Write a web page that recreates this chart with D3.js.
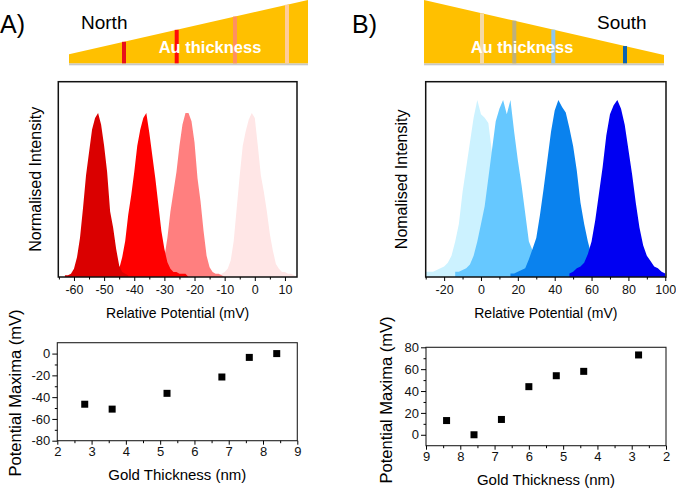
<!DOCTYPE html>
<html><head><meta charset="utf-8">
<script src="https://cdn.jsdelivr.net/npm/d3@7"></script>
<style>html,body{margin:0;padding:0;background:#fff}svg{display:block}text{font-family:"Liberation Sans",Arial,sans-serif}</style>
</head><body><svg id="c" width="676" height="489"></svg>
<script>
// ---------- DATA ----------
// North (A) histograms, 1 mV bins, normalised intensity
const northStep = 1;
const northStarts = [-63, -46, -32, -12];
const northDark = [0.01,0.01,0.02,0.05,0.12,0.24,0.42,0.62,0.76,0.9,0.97,1.0,0.93,0.8,0.64,0.4,0.3,0.17,0.07,0.03,0.02,0.01];
const northRed = [0.01,0.05,0.12,0.22,0.38,0.5,0.64,0.8,0.9,0.97,1.0,0.88,0.74,0.6,0.44,0.28,0.17,0.09,0.05,0.03,0.03,0.02,0.02,0.02,0];
const northSalmon = [0.02,0.05,0.12,0.24,0.4,0.52,0.64,0.8,0.93,1.0,1.0,0.95,0.82,0.6,0.46,0.28,0.13,0.06,0.03,0.02,0.02,0.01,0];
const northPink = [0.01,0.02,0.03,0.05,0.1,0.22,0.42,0.62,0.8,0.89,0.96,1.0,0.97,0.8,0.62,0.52,0.4,0.26,0.16,0.08,0.05,0.03,0.03,0.02,0.02,0.01,0];
// South (B) histograms, 2 mV bins
const southStep = 2;
const southStarts = [-30, -14, 16, 48];
const southPale = [0.03,0.03,0.03,0.04,0.05,0.06,0.08,0.12,0.2,0.3,0.48,0.62,0.76,0.9,1.0,0.92,0.9,0.87,0.7,0.5,0.3,0.15,0.06,0.02,0];
const southLight = [0.03,0.03,0.04,0.05,0.07,0.12,0.2,0.3,0.4,0.56,0.72,0.88,0.95,1.0,0.92,1.0,0.82,0.66,0.52,0.36,0.2,0.15,0.1,0.06,0.04,0.03,0.02,0];
const southMid = [0.02,0.02,0.03,0.04,0.05,0.1,0.16,0.22,0.35,0.5,0.66,0.82,0.94,1.0,0.96,0.93,0.84,0.74,0.6,0.42,0.3,0.2,0.12,0.07,0.04,0.02,0];
const southDeep = [0.02,0.03,0.05,0.06,0.08,0.13,0.2,0.32,0.47,0.62,0.8,0.92,0.97,1.0,0.95,0.86,0.72,0.58,0.42,0.28,0.18,0.12,0.09,0.06,0.05,0.03,0.02];
// Potential maxima vs gold thickness
const northThickness = [2.8, 3.6, 5.2, 6.8, 7.6, 8.4];
const northMaxima = [-46.5, -51, -36.5, -21.5, -3.5, 0];
const southThickness = [8.4, 7.6, 6.8, 6.0, 5.2, 4.4, 2.8];
const southMaxima = [13, 0, 14, 44, 54, 58, 73];
// tick labels
const northHistTicks = [-60,-50,-40,-30,-20,-10,0,10];
const southHistTicks = [-20,0,20,40,60,80,100];
const thicknessTicks = [2,3,4,5,6,7,8,9];
const northMaxTicks = [-80,-60,-40,-20,0];
const southMaxTicks = [0,20,40,60,80];

// ---------- DRAW ----------
const svg = d3.select("#c");
const str = d => String(d);

function wedge(pts, stripes, stripeColors, topEdge) {
  svg.append("rect").attr("x", pts[0][0]).attr("y", 63.3).attr("width", pts[2][0]-pts[0][0]).attr("height", 2).attr("fill", "#c8c8c8");
  svg.append("polygon").attr("points", pts.map(p => p.join(",")).join(" ")).attr("fill", "#FFC000");
  stripes.forEach((sx, i) => {
    const yt = topEdge(sx);
    svg.append("rect").attr("x", sx - 2).attr("y", yt).attr("width", 4).attr("height", 63.3 - yt).attr("fill", stripeColors[i]);
  });
}
// Left wedge (thin at left)
wedge([[69,63.3],[69,54.3],[308,0],[308,63.3]], [124, 176.7, 235, 287],
  ["#E8101A","#FF0A0A","#FF9060","#FFCC99"], x => 54.3 - (x-69)/(308-69)*54.3);
// Right wedge (thick at left)
wedge([[424,63.3],[424,0],[664,55],[664,63.3]], [482, 514.3, 553.3, 625],
  ["#F4D9A6","#BDB07E","#8EC6EE","#0B62B2"], x => (x-424)/(664-424)*55);

svg.append("text").attr("x", 0).attr("y", 33).attr("font-size", 25).text("A)");
svg.append("text").attr("x", 352).attr("y", 33).attr("font-size", 25).text("B)");
svg.append("text").attr("x", 81).attr("y", 29).attr("font-size", 19).text("North");
svg.append("text").attr("x", 597).attr("y", 29).attr("font-size", 19).text("South");
svg.append("text").attr("x", 210).attr("y", 53).attr("font-size", 16.5).attr("font-weight", "bold").attr("fill", "#fff").attr("text-anchor", "middle").text("Au thickness");
svg.append("text").attr("x", 522).attr("y", 53).attr("font-size", 16.5).attr("font-weight", "bold").attr("fill", "#fff").attr("text-anchor", "middle").text("Au thickness");

function hist(o) {
  const x = d3.scaleLinear().domain(o.domain).range([o.x0, o.x1]);
  const y = d3.scaleLinear().domain([0, 1]).range([o.yb, o.ytop]);
  const id = "clip" + o.id;
  svg.append("clipPath").attr("id", id).append("rect").attr("x", o.x0).attr("y", o.yt).attr("width", o.x1 - o.x0).attr("height", o.yb - o.yt);
  const g = svg.append("g").attr("clip-path", `url(#${id})`);
  const area = d3.area().x(d => x(d.v)).y0(y(0)).y1(d => y(d.h)).curve(d3.curveLinear);
  o.series.forEach((s, i) => {
    const pts = s.map((h, j) => ({v: o.starts[i] + j * o.step, h}));
    g.append("path").datum(pts).attr("d", area).attr("fill", o.colors[i]);
  });
  svg.append("rect").attr("x", o.x0).attr("y", o.yt).attr("width", o.x1 - o.x0).attr("height", o.yb - o.yt)
    .attr("fill", "none").attr("stroke", "#111").attr("stroke-width", 1.5);
  const ax = svg.append("g").attr("transform", `translate(0,${o.yb})`)
    .call(d3.axisBottom(x).tickValues(o.ticks).tickFormat(str).tickSize(4).tickPadding(4));
  ax.select(".domain").remove();
  ax.selectAll("text").attr("font-size", 12.5).attr("font-family", "Liberation Sans, Arial").attr("fill", "#111");
  const minor = o.ticks.slice(0, -1).map((t, i) => (t + o.ticks[i+1]) / 2).concat([o.ticks[0] - (o.ticks[1]-o.ticks[0])/2]);
  const mx = svg.append("g").attr("transform", `translate(0,${o.yb})`)
    .call(d3.axisBottom(x).tickValues(minor.filter(v => v >= o.domain[0] && v <= o.domain[1])).tickFormat("").tickSize(2.5));
  mx.select(".domain").remove();
  svg.append("text").attr("x", (o.x0 + o.x1) / 2).attr("y", 318).attr("font-size", 14).attr("text-anchor", "middle").text("Relative Potential (mV)");
  svg.append("text").attr("transform", `translate(${o.ylabX},${(o.yt + o.yb) / 2}) rotate(-90)`).attr("font-size", 16).attr("text-anchor", "middle").text(o.ylab);
}

hist({id: "n", domain: [-65.2, 14], x0: 58.3, x1: 297, yt: 81.7, yb: 277, ytop: 113,
  series: [northPink, northSalmon, northRed, northDark], starts: [northStarts[3], northStarts[2], northStarts[1], northStarts[0]],
  step: northStep, colors: ["#FFE6E6", "#FF7F7F", "#FF0000", "#DA0000"], ticks: northHistTicks,
  ylab: "Normalised Intensity", ylabX: 41});
hist({id: "s", domain: [-30, 100.4], x0: 425.7, x1: 666, yt: 81.7, yb: 277, ytop: 100,
  series: [southPale, southLight, southMid, southDeep], starts: southStarts,
  step: southStep, colors: ["#CCF2FF", "#66C8FF", "#0A82EE", "#0000F2"], ticks: southHistTicks,
  ylab: "Nomalised Intensity", ylabX: 407});

function scatter(o) {
  const x = d3.scaleLinear().domain(o.xdom).range([o.x0, o.x1]);
  const y = d3.scaleLinear().domain(o.ydom).range([o.yb, o.yt]);
  svg.append("rect").attr("x", o.x0).attr("y", o.yt).attr("width", o.x1 - o.x0).attr("height", o.yb - o.yt)
    .attr("fill", "none").attr("stroke", "#222").attr("stroke-width", 1.1);
  const ax = svg.append("g").attr("transform", `translate(0,${o.yb})`)
    .call(d3.axisBottom(x).tickValues(thicknessTicks).tickFormat(str).tickSize(4).tickPadding(2));
  ax.select(".domain").remove();
  const mxv = thicknessTicks.slice(0, -1).map(t => t + 0.5);
  const mx = svg.append("g").attr("transform", `translate(0,${o.yb})`).call(d3.axisBottom(x).tickValues(mxv).tickFormat("").tickSize(2.5));
  mx.select(".domain").remove();
  const ay = svg.append("g").attr("transform", `translate(${o.x0},0)`)
    .call(d3.axisLeft(y).tickValues(o.yticks).tickFormat(str).tickSize(5).tickPadding(2));
  ay.select(".domain").remove();
  const myv = o.yticks.map(t => t + 10).filter(v => v < o.ydom[1]);
  const my = svg.append("g").attr("transform", `translate(${o.x0},0)`).call(d3.axisLeft(y).tickValues(myv).tickFormat("").tickSize(2.5));
  my.select(".domain").remove();
  svg.selectAll(".tick text").attr("font-family", "Liberation Sans, Arial");
  ax.selectAll("text").attr("font-size", 13).attr("fill", "#111");
  ay.selectAll("text").attr("font-size", 13).attr("fill", "#111");
  svg.append("g").selectAll("rect.pt").data(o.xs).enter().append("rect")
    .attr("x", (d) => x(d) - 3.5).attr("y", (d, i) => y(o.ys[i]) - 3.5).attr("width", 7).attr("height", 7).attr("fill", "#000");
  svg.append("text").attr("x", (o.x0 + o.x1) / 2).attr("y", o.xlabY).attr("font-size", 15).attr("text-anchor", "middle").text("Gold Thickness (nm)");
  svg.append("text").attr("transform", `translate(${o.ylabX},${o.ylabY}) rotate(-90)`).attr("font-size", 16.5).attr("text-anchor", "middle").text("Potential Maxima (mV)");
}

scatter({xdom: [2, 9], ydom: [-80, 10], x0: 57.3, x1: 297.3, yt: 342.7, yb: 440.7,
  xs: northThickness, ys: northMaxima, yticks: northMaxTicks, xlabY: 480, ylabX: 21, ylabY: 393});
scatter({xdom: [9, 2], ydom: [-10, 80], x0: 426, x1: 666, yt: 347.3, yb: 445.7,
  xs: southThickness, ys: southMaxima, yticks: southMaxTicks, xlabY: 485, ylabX: 392, ylabY: 400});
</script></body></html>
